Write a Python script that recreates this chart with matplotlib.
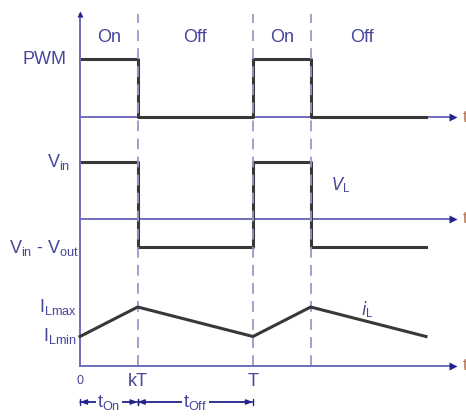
import matplotlib.pyplot as plt
from matplotlib.transforms import blended_transform_factory

plt.rcParams['font.family'] = ['Liberation Sans', 'DejaVu Sans']
plt.rcParams['mathtext.default'] = 'regular'

# switching period normalised to T = 1, duty ratio k
k = 1 / 3
t_edges = [0, k, 1, 1 + k, 2]
pwm = [1, 0, 1, 0, 0]
v_l = [1, -0.5, 1, -0.5, -0.5]      # Vin during on, Vin - Vout during off
i_l = [1, 2, 1, 2, 1]               # ILmin -> ILmax -> ILmin ...

phases = ['On', 'Off', 'On', 'Off']
phase_mid = [k / 2, (k + 1) / 2, 1 + k / 2, 1.63]
marks = [k, 1, 1 + k]
tick_names = ['0', 'kT', 'T']
tick_pos = [0, k, 1]

# layout (pixels)
W, H = 466, 416
ORIGIN_PX, T_PX = 80, 173
AXIS_END = 2.156
TOP_PX = 14

TXT = '#45459a'
AXIS = '#6e6ebf'
HEAD = '#23238c'
WAVE = '#383838'
DASH = '#9898cc'

fig = plt.figure(figsize=(W / 100, H / 100), dpi=100)


def panel(base_px, unit_px):
    ax = fig.add_axes([0, 0, 1, 1])
    ax.set_xlim(-ORIGIN_PX / T_PX, (W - ORIGIN_PX) / T_PX)
    ax.set_ylim(-(H - base_px) / unit_px, base_px / unit_px)
    ax.axis('off')
    ax.patch.set_alpha(0)
    ax.plot([0, AXIS_END], [0, 0], color=AXIS, lw=1.4, zorder=1)
    ax.plot(AXIS_END, 0, marker='>', color=HEAD, ms=6, mec='none', zorder=2)
    # axis name, mostly running off the right edge
    ax.text((W - 3 - ORIGIN_PX) / T_PX, 0, 't', color='#b07050',
            fontsize=12, ha='left', va='center')
    return ax


ax_pwm = panel(117, 58)
ax_vl = panel(219, 57)
ax_il = panel(366, 29.5)

# vertical axis and dashed switching instants
y0 = (H - 366) / H
y1 = (H - TOP_PX) / H
ax_il.axvline(0, ymin=y0, ymax=y1, color=AXIS, lw=1.4, zorder=1)
bt = blended_transform_factory(ax_il.transData, ax_il.transAxes)
ax_il.plot(0, y1, marker='^', color=HEAD, ms=5, mec='none', transform=bt)
for m in marks:
    ax_il.axvline(m, ymin=y0, ymax=y1, color=DASH, lw=1.3,
                  dashes=(6, 4), zorder=0)

# waveforms
ax_pwm.step(t_edges, pwm, where='post', color=WAVE, lw=2.2, zorder=3)
ax_vl.step(t_edges, v_l, where='post', color=WAVE, lw=2.2, zorder=3)
ax_il.plot(t_edges, i_l, color=WAVE, lw=2.2, zorder=3)

# phase names
bp = blended_transform_factory(ax_pwm.transData, ax_pwm.transAxes)
for name, x in zip(phases, phase_mid):
    ax_pwm.text(x, 1 - 37 / H, name, transform=bp, color=TXT,
                fontsize=13, ha='center', va='center')

# level labels on the left
def left_label(ax, y, s, dx):
    ax.annotate(s, xy=(0, y), xytext=(dx, 0), textcoords='offset pixels',
                ha='right', va='center', color=TXT, fontsize=13)


left_label(ax_pwm, pwm[0], 'PWM', -13)
left_label(ax_vl, v_l[0], '$V_{in}$', -10)
left_label(ax_vl, v_l[1], '$V_{in}$ - $V_{out}$', -1)
left_label(ax_il, max(i_l), '$I_{Lmax}$', -3)
left_label(ax_il, min(i_l), '$I_{Lmin}$', -3)

ax_vl.text(1.51, 0.6, r'$\mathit{V}_{L}$', color=TXT, fontsize=12,
           ha='center', va='center')
ax_il.text(1.66, 1.9, r'$\mathit{i}_{L}$', color=TXT, fontsize=12,
           ha='center', va='center')

# time ticks
for name, x in zip(tick_names, tick_pos):
    ax_il.annotate(name, xy=(x, 0), xytext=(0, -15), textcoords='offset pixels',
                   ha='center', va='center', color=TXT,
                   fontsize=9 if name == '0' else 13)

# t_on / t_off spans
y_span = (H - 402) / H
spans = [(0, k, '$t_{On}$'), (k, 1, '$t_{Off}$')]
for a, b, s in spans:
    ax_il.annotate('', xy=(b, y_span), xytext=(a, y_span),
                   xycoords=('data', 'axes fraction'),
                   textcoords=('data', 'axes fraction'),
                   arrowprops=dict(arrowstyle='|-|, widthA=0.2, widthB=0.2',
                                   color=HEAD, lw=1.0, shrinkA=0, shrinkB=0))
    for end in (a, b):
        ax_il.annotate('', xy=(end, y_span), xytext=((a + b) / 2, y_span),
                       xycoords=('data', 'axes fraction'),
                       textcoords=('data', 'axes fraction'),
                       arrowprops=dict(arrowstyle='-|>, head_length=0.4, head_width=0.15',
                                       color=HEAD, lw=1.0, shrinkA=0, shrinkB=0))
    ax_il.text((a + b) / 2, y_span, s, transform=bt, color=TXT, fontsize=13,
               ha='center', va='center',
               bbox=dict(facecolor='white', edgecolor='none', pad=1))

fig.savefig('out.png', dpi=100)
